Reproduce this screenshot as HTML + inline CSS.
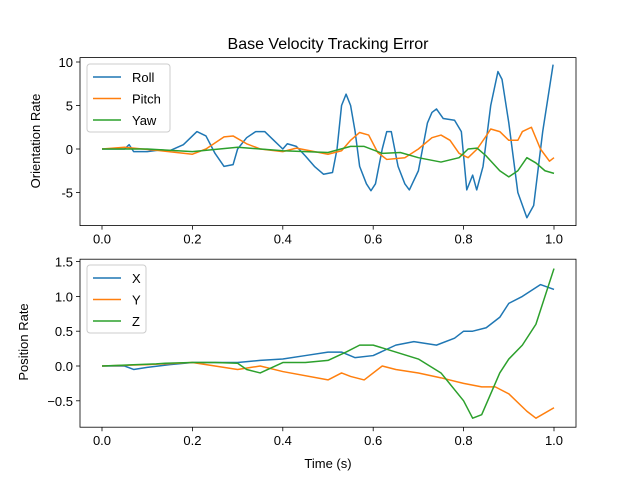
<!DOCTYPE html>
<html><head><meta charset="utf-8"><style>
body{margin:0;background:#fff}
svg text{font-family:"Liberation Sans","DejaVu Sans",sans-serif;font-size:13px;fill:#000}
</style></head><body>
<svg id="c" width="640" height="480" xmlns="http://www.w3.org/2000/svg">
<rect width="640" height="480" fill="#fff"/>
<text x="328" y="49" text-anchor="middle" style="font-size:16px">Base Velocity Tracking Error</text>
<g id="top"></g>
<g id="bot"></g>
<text x="328" y="468" text-anchor="middle">Time (s)</text>
<text transform="translate(40,141) rotate(-90)" text-anchor="middle">Orientation Rate</text>
<text transform="translate(28,342) rotate(-90)" text-anchor="middle">Position Rate</text>
</svg>
<script>
const xTicks=[0,0.2,0.4,0.6,0.8,1.0];
const xTickLabels=["0.0","0.2","0.4","0.6","0.8","1.0"];
const topYTicks=[10,5,0,-5];
const botYTicks=[1.5,1.0,0.5,0.0,-0.5];
const rollT=[0,0.05,0.06,0.07,0.1,0.13,0.15,0.18,0.2,0.21,0.23,0.25,0.27,0.29,0.3,0.32,0.34,0.36,0.38,0.4,0.41,0.43,0.45,0.47,0.49,0.51,0.52,0.53,0.54,0.55,0.56,0.57,0.585,0.595,0.605,0.62,0.63,0.64,0.655,0.67,0.68,0.7,0.72,0.73,0.74,0.755,0.78,0.795,0.807,0.82,0.829,0.843,0.86,0.876,0.885,0.9,0.92,0.94,0.955,0.975,0.998];
const rollV=[0,0,0.5,-0.3,-0.3,-0.1,-0.2,0.5,1.5,2.0,1.5,-0.5,-2.0,-1.8,0,1.3,2.0,2.0,1.0,0,0.6,0.3,-0.8,-2.0,-2.9,-2.7,0,5.0,6.3,5.0,2.0,-2.0,-4.0,-4.8,-4.0,0,2.0,2.0,-2.0,-4.0,-4.7,-2.5,3.0,4.2,4.6,3.5,3.3,2.0,-4.7,-3.0,-4.7,-2.0,5.0,8.9,8.0,3.0,-5.0,-7.9,-6.5,2.0,9.7];
const pitchT=[0,0.05,0.13,0.2,0.23,0.27,0.29,0.32,0.35,0.4,0.43,0.47,0.5,0.53,0.55,0.57,0.59,0.61,0.63,0.67,0.7,0.73,0.75,0.77,0.79,0.81,0.83,0.85,0.86,0.88,0.9,0.92,0.93,0.95,0.97,0.99,1.0];
const pitchV=[0,0.2,-0.2,-0.6,0,1.4,1.5,0.6,0,-0.3,0.1,-0.3,-0.6,-0.2,1.0,1.9,1.6,-0.4,-1.2,-1.0,0,1.3,1.6,1.0,-0.5,-1.0,0,1.5,2.3,2.0,1.0,1.0,2.0,2.5,0,-1.4,-1.0];
const yawT=[0,0.1,0.2,0.3,0.4,0.5,0.55,0.58,0.62,0.66,0.7,0.75,0.79,0.81,0.83,0.85,0.88,0.9,0.92,0.94,0.96,0.98,1.0];
const yawV=[0,0,-0.3,0.2,-0.2,-0.4,0.3,0.3,-0.5,-0.4,-1.0,-1.5,-1.0,0,0.1,-0.8,-2.5,-3.2,-2.5,-1.0,-1.6,-2.5,-2.8];
const xT=[0,0.05,0.07,0.1,0.15,0.2,0.25,0.3,0.35,0.4,0.45,0.5,0.53,0.56,0.6,0.65,0.69,0.74,0.78,0.8,0.82,0.85,0.88,0.9,0.93,0.97,1.0];
const xV=[0,0,-0.05,-0.02,0.02,0.05,0.05,0.05,0.08,0.1,0.15,0.2,0.2,0.12,0.15,0.3,0.35,0.3,0.4,0.5,0.5,0.55,0.7,0.9,1.0,1.17,1.1];
const yT=[0,0.1,0.2,0.3,0.35,0.4,0.5,0.53,0.55,0.58,0.62,0.65,0.7,0.75,0.8,0.84,0.87,0.9,0.94,0.96,1.0];
const yV=[0,0.02,0.05,-0.05,0,-0.08,-0.2,-0.1,-0.15,-0.2,0,-0.05,-0.1,-0.17,-0.25,-0.3,-0.3,-0.4,-0.65,-0.75,-0.6];
const zT=[0,0.12,0.14,0.2,0.25,0.3,0.32,0.35,0.4,0.45,0.5,0.54,0.57,0.6,0.65,0.7,0.75,0.8,0.82,0.84,0.86,0.88,0.9,0.93,0.96,1.0];
const zV=[0,0.03,0.04,0.05,0.05,0.04,-0.05,-0.1,0.05,0.05,0.08,0.2,0.3,0.3,0.2,0.1,-0.1,-0.5,-0.75,-0.7,-0.4,-0.1,0.1,0.3,0.6,1.4];

const NS="http://www.w3.org/2000/svg";
function mk(tag,attrs,parent){const e=document.createElementNS(NS,tag);for(const k in attrs)e.setAttribute(k,attrs[k]);parent.appendChild(e);return e;}
const xs=t=>102+452*t;
const ysTop=v=>149-8.7*v;
const ysBot=v=>366-69.6*v;
const C=["#1f77b4","#ff7f0e","#2ca02c"];

function axes(g,top,bottom,yTicks,ys,fmt){
  for(let i=0;i<xTicks.length;i++){
    const x=xs(xTicks[i]);
    const l=mk('line',{x1:x,x2:x,y1:bottom,y2:bottom+4,stroke:'#000','stroke-width':0.8},g);
    
    
    const t=mk('text',{x:x,y:bottom+18,'text-anchor':'middle'},g);
    t.textContent=xTickLabels[i];
    
    
  }
  for(const v of yTicks){
    const y=ys(v);
    const l=mk('line',{x1:76,x2:80,y1:y,y2:y,stroke:'#000','stroke-width':0.8},g);
    
    
    const t=mk('text',{x:73,y:y+5,'text-anchor':'end'},g);
    t.textContent=fmt(v);
    
    
  }
}
function line(g,T,V,ys,col,name){
  const p=mk('polyline',{points:T.map((t,i)=>xs(t)+','+ys(V[i])).join(' '),fill:'none',stroke:col,'stroke-width':1.5,'stroke-linejoin':'round'},g);
  
  
}
function frame(g,top,bottom){
  const r=mk('rect',{x:80,y:top,width:496,height:bottom-top,fill:'none',stroke:'#000','stroke-width':0.8},g);
  
  
}
function legend(g,x,y,w,names){
  const b=mk('rect',{x:x,y:y,width:w,height:68,rx:3,fill:'#fff','fill-opacity':0.8,stroke:'#ccc','stroke-width':1},g);
  
  
  names.forEach((n,i)=>{
    const yy=y+13+i*21.5;
    const l=mk('line',{x1:x+6,x2:x+34,y1:yy,y2:yy,stroke:C[i],'stroke-width':1.5},g);
    
    
    const t=mk('text',{x:x+45,y:yy+5},g);
    t.textContent=n;
    
    
  });
}
const gt=document.getElementById('top'),gb=document.getElementById('bot');
axes(gt,57.6,225.6,topYTicks,ysTop,v=>String(v));
line(gt,rollT,rollV,ysTop,C[0],'roll-line');
line(gt,pitchT,pitchV,ysTop,C[1],'pitch-line');
line(gt,yawT,yawV,ysTop,C[2],'yaw-line');
frame(gt,57.6,225.6);
legend(gt,87,64,83,["Roll","Pitch","Yaw"]);
axes(gb,259.2,427.2,botYTicks,ysBot,v=>v<0?'\u2212'+Math.abs(v).toFixed(1):v.toFixed(1));
line(gb,xT,xV,ysBot,C[0],'x-line');
line(gb,yT,yV,ysBot,C[1],'y-line');
line(gb,zT,zV,ysBot,C[2],'z-line');
frame(gb,259.2,427.2);
legend(gb,87,265,59,["X","Y","Z"]);
</script>
</body></html>
